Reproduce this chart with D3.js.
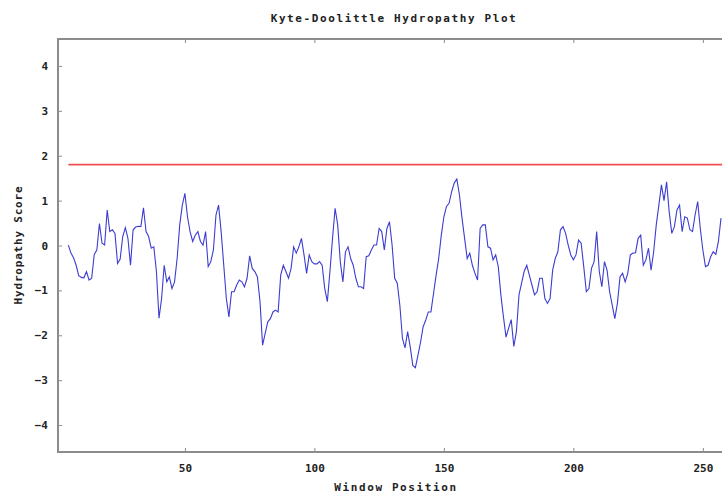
<!DOCTYPE html>
<html>
<head>
<meta charset="utf-8">
<script src="https://cdn.jsdelivr.net/npm/d3@7"></script>
<style>
    body { margin: 0; background: #fff; }
    svg { display: block; }
    text { font-family: "DejaVu Sans Mono", monospace; font-weight: bold; fill: #222; }
</style>
</head>
<body>
<svg id="chart" width="722" height="493"></svg>
<script>
const chartTitle = 'Kyte-Doolittle Hydropathy Plot';
const xLabel = 'Window Position';
const yLabel = 'Hydropathy Score';
const xTicks = [50, 100, 150, 200, 250];
const yTicks = [-4, -3, -2, -1, 0, 1, 2, 3, 4];
const threshold = 1.8;
const firstPosition = 5;
const hydropathy = [
    0.01, -0.17, -0.27, -0.44, -0.67, -0.71, -0.72, -0.58, -0.77, -0.73,
    -0.20, -0.10, 0.49, 0.05, 0.01, 0.79, 0.31, 0.35, 0.27, -0.40,
    -0.30, 0.20, 0.40, 0.16, -0.44, 0.35, 0.41, 0.43, 0.42, 0.84,
    0.31, 0.20, -0.06, -0.03, -0.58, -1.62, -1.18, -0.44, -0.81, -0.70,
    -0.96, -0.81, -0.29, 0.46, 0.90, 1.16, 0.64, 0.31, 0.09, 0.23,
    0.31, 0.09, 0.01, 0.31, -0.47, -0.36, -0.10, 0.68, 0.90, 0.31,
    -0.44, -1.18, -1.59, -1.03, -1.03, -0.88, -0.77, -0.81, -0.92, -0.73,
    -0.23, -0.51, -0.58, -0.70, -1.25, -2.22, -1.96, -1.70, -1.63, -1.48,
    -1.44, -1.48, -0.66, -0.44, -0.58, -0.73, -0.51, -0.03, -0.17, -0.03,
    0.16, -0.21, -0.62, -0.21, -0.36, -0.41, -0.41, -0.36, -0.44, -0.96,
    -1.25, -0.58, 0.16, 0.83, 0.46, -0.36, -0.81, -0.14, -0.03, -0.29,
    -0.44, -0.73, -0.92, -0.92, -0.96, -0.25, -0.23, -0.10, 0.01, 0.01,
    0.38, 0.31, -0.10, 0.38, 0.53, 0.01, -0.73, -0.84, -1.33, -2.07,
    -2.28, -1.92, -2.26, -2.67, -2.72, -2.44, -2.15, -1.81, -1.66, -1.48,
    -1.48, -1.07, -0.66, -0.29, 0.23, 0.64, 0.87, 0.94, 1.20, 1.39,
    1.48, 1.13, 0.61, 0.16, -0.29, -0.17, -0.44, -0.62, -0.77, 0.38,
    0.46, 0.46, -0.03, -0.06, -0.32, -0.21, -0.47, -1.10, -1.59, -2.04,
    -1.84, -1.65, -2.25, -1.92, -1.10, -0.84, -0.58, -0.44, -0.66, -0.88,
    -1.10, -1.03, -0.73, -0.73, -1.18, -1.29, -1.18, -0.55, -0.29, -0.14,
    0.35, 0.42, 0.27, 0.01, -0.21, -0.32, -0.21, 0.12, 0.05, -0.47,
    -1.03, -0.96, -0.51, -0.36, 0.31, -0.58, -0.92, -0.36, -0.55, -1.03,
    -1.33, -1.63, -1.29, -0.70, -0.62, -0.81, -0.62, -0.21, -0.17, -0.16,
    0.16, 0.23, -0.44, -0.32, -0.06, -0.55, -0.14, 0.46, 0.90, 1.35,
    1.00, 1.42, 0.75, 0.27, 0.42, 0.79, 0.90, 0.31, 0.64, 0.61,
    0.35, 0.31, 0.68, 0.98, 0.38, -0.10, -0.47, -0.44, -0.25, -0.14,
    -0.20, 0.09, 0.61
];

(function init() {
    drawPlot();
})();

function drawPlot() {
    const svg = d3.select('#chart');
    const left = 58, top = 39, bottom = 452, right = 724;

    const x = d3.scaleLinear().domain([1, 257]).range([58, 721]);
    const y = d3.scaleLinear().domain([-4.6, 4.6]).range([bottom, top]);

    const points = hydropathy.map((v, i) => ({ pos: firstPosition + i, score: v }));

    // frame (right side runs off the picture)
    const frame = svg.append('g').attr('stroke', '#8c8c8c').attr('stroke-width', 2).attr('fill', 'none');
    frame.append('path').attr('d', `M${right},${top}H${left}V${bottom}H${right}`);

    const gx = svg.append('g').attr('transform', `translate(0,${bottom})`)
        .call(d3.axisBottom(x).tickValues(xTicks).tickSize(-4).tickPadding(10));
    const gxTop = svg.append('g').attr('transform', `translate(0,${top})`)
        .call(d3.axisTop(x).tickValues(xTicks).tickSize(-4));
    const gy = svg.append('g').attr('transform', `translate(${left},0)`)
        .call(d3.axisLeft(y).tickValues(yTicks).tickSize(-4).tickPadding(10));

    gxTop.selectAll('.tick text').remove();

    [gx, gxTop, gy].forEach(g => {
        g.select('.domain').remove();
        g.selectAll('.tick line').attr('stroke', '#8c8c8c');
    });
    [gx, gy].forEach(g => {
        g.selectAll('.tick text')
            .attr('font-family', '"DejaVu Sans Mono", monospace')
            .attr('font-weight', 'bold')
            .attr('font-size', 11)
            .attr('fill', '#222')
            .text(d => d < 0 ? '\u2212' + Math.abs(d) : d);
    });
    gx.selectAll('.tick text').attr('dy', '0.9em');

    svg.append('line')
        .attr('x1', x(firstPosition)).attr('x2', right)
        .attr('y1', y(threshold)).attr('y2', y(threshold))
        .attr('stroke', '#f05050').attr('stroke-width', 1.8);

    const line = d3.line().x(d => x(d.pos)).y(d => y(d.score));
    svg.append('path')
        .datum(points)
        .attr('fill', 'none')
        .attr('stroke', '#3c3cd2')
        .attr('stroke-width', 1.1)
        .attr('d', line);

    svg.append('text')
        .attr('x', 394).attr('y', 22)
        .attr('text-anchor', 'middle')
        .attr('font-size', 11)
        .attr('letter-spacing', 1.6)
        .text(chartTitle);

    svg.append('text')
        .attr('x', 396).attr('y', 491)
        .attr('text-anchor', 'middle')
        .attr('font-size', 11)
        .attr('letter-spacing', 1.6)
        .text(xLabel);

    svg.append('text')
        .attr('transform', 'translate(22,245) rotate(-90)')
        .attr('text-anchor', 'middle')
        .attr('font-size', 11)
        .attr('letter-spacing', 0.8)
        .text(yLabel);
}
</script>
</body>
</html>
